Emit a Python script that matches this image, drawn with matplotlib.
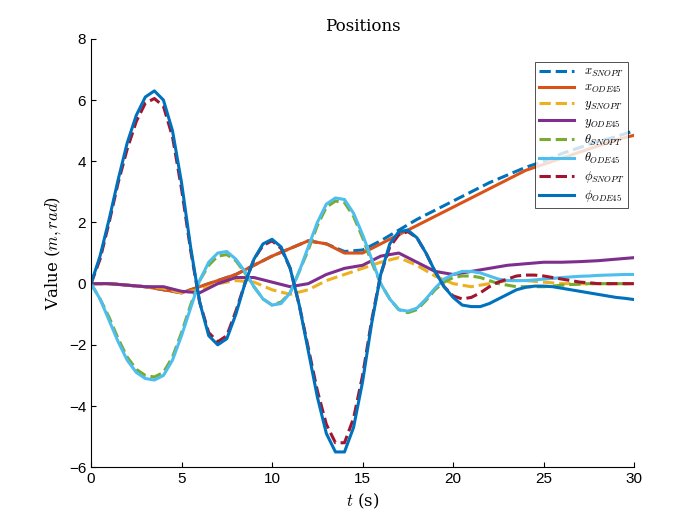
import numpy as np
import matplotlib.pyplot as plt

plt.rcParams["mathtext.fontset"] = "cm"
plt.rcParams["font.family"] = ["Liberation Sans", "DejaVu Sans"]

# fine series sampled every 0.5 s, slow series every 1 s
phi_ode = [0, 0.9, 2.1, 3.4, 4.6, 5.5, 6.1, 6.3, 6.0, 5.0,
           3.3, 1.2, -0.6, -1.7, -2.0, -1.8, -1.0, 0.0, 0.8, 1.3,
           1.45, 1.2, 0.5, -0.7, -2.2, -3.7, -4.9, -5.5, -5.5, -4.7,
           -3.2, -1.3, 0.3, 1.3, 1.7, 1.75, 1.5, 1.0, 0.4, -0.1,
           -0.45, -0.7, -0.75, -0.75, -0.65, -0.5, -0.35, -0.2, -0.12, -0.08,
           -0.08, -0.1, -0.15, -0.2, -0.25, -0.3, -0.35, -0.4, -0.45, -0.48, -0.52]
phi_snopt = [0, 0.8, 2.0, 3.3, 4.4, 5.3, 5.9, 6.05, 5.8, 4.8,
             3.1, 1.1, -0.6, -1.6, -1.9, -1.7, -0.9, 0.0, 0.8, 1.25,
             1.4, 1.15, 0.5, -0.7, -2.1, -3.5, -4.6, -5.2, -5.2, -4.4,
             -3.0, -1.2, 0.3, 1.2, 1.6, 1.7, 1.5, 1.0, 0.4, -0.1,
             -0.4, -0.5, -0.45, -0.3, -0.1, 0.05, 0.15, 0.25, 0.28, 0.28,
             0.25, 0.2, 0.15, 0.1, 0.05, 0.03, 0.0, 0.0, 0.0, 0.0, 0.0]
theta_ode = [0, -0.5, -1.2, -1.9, -2.5, -2.9, -3.1, -3.15, -3.0, -2.5,
             -1.7, -0.8, 0.1, 0.7, 1.0, 1.05, 0.8, 0.4, -0.1, -0.5,
             -0.7, -0.65, -0.3, 0.4, 1.2, 2.0, 2.6, 2.8, 2.75, 2.3,
             1.6, 0.8, 0.0, -0.5, -0.85, -0.9, -0.8, -0.5, -0.15, 0.15,
             0.3, 0.4, 0.4, 0.35, 0.25, 0.15, 0.1, 0.1, 0.1, 0.12,
             0.15, 0.17, 0.2, 0.22, 0.24, 0.25, 0.27, 0.28, 0.29, 0.3, 0.3]
theta_snopt = [0, -0.5, -1.1, -1.8, -2.4, -2.8, -3.0, -3.05, -2.9, -2.4,
               -1.6, -0.7, 0.1, 0.6, 0.9, 0.95, 0.75, 0.35, -0.1, -0.5,
               -0.7, -0.6, -0.3, 0.4, 1.1, 1.9, 2.5, 2.7, 2.65, 2.2,
               1.5, 0.7, 0.0, -0.5, -0.85, -0.95, -0.85, -0.55, -0.2, 0.05,
               0.2, 0.25, 0.25, 0.2, 0.1, 0.0, -0.05, -0.1, -0.1, -0.1,
               -0.1, -0.08, -0.05, -0.03, -0.02, 0.0, 0.0, 0.0, 0.0, 0.0, 0.0]
x_ode = [0, 0.0, -0.05, -0.1, -0.2, -0.3, -0.1, 0.1, 0.3, 0.6, 0.9, 1.15, 1.4, 1.3, 1.0, 1.0,
         1.3, 1.6, 1.9, 2.2, 2.5, 2.8, 3.1, 3.4, 3.7, 3.9, 4.1, 4.3, 4.5, 4.7, 4.85]
x_snopt = [0, 0.0, -0.05, -0.1, -0.2, -0.3, -0.1, 0.1, 0.3, 0.6, 0.9, 1.15, 1.4, 1.3, 1.05, 1.1,
           1.4, 1.75, 2.1, 2.4, 2.7, 3.0, 3.3, 3.55, 3.8, 4.0, 4.25, 4.45, 4.65, 4.8, 5.0]
y_ode = [0, 0, -0.05, -0.1, -0.1, -0.25, -0.3, 0.0, 0.2, 0.2, 0.05, -0.1, 0.0, 0.3, 0.5, 0.6,
         0.9, 1.0, 0.7, 0.4, 0.3, 0.4, 0.5, 0.6, 0.65, 0.7, 0.7, 0.72, 0.75, 0.8, 0.85]
y_snopt = [0, 0, -0.05, -0.1, -0.15, -0.3, -0.2, 0.0, 0.1, 0.05, -0.2, -0.35, -0.2, 0.1, 0.3, 0.5,
           0.7, 0.85, 0.6, 0.25, 0.0, -0.1, 0.0, 0.1, 0.1, 0.05, 0.0, 0.0, 0.0, 0.0, 0.0]

t_fine = np.linspace(0, 30, len(phi_ode))
t_slow = np.linspace(0, 30, len(x_ode))

series = [
    (t_slow, x_snopt, "--", "#0072BD", r"$x_{SNOPT}$"),
    (t_slow, x_ode, "-", "#D95319", r"$x_{ODE45}$"),
    (t_slow, y_snopt, "--", "#EDB120", r"$y_{SNOPT}$"),
    (t_slow, y_ode, "-", "#7E2F8E", r"$y_{ODE45}$"),
    (t_fine, theta_snopt, "--", "#77AC30", r"$\theta_{SNOPT}$"),
    (t_fine, theta_ode, "-", "#4DBEEE", r"$\theta_{ODE45}$"),
    (t_fine, phi_snopt, "--", "#A2142F", r"$\phi_{SNOPT}$"),
    (t_fine, phi_ode, "-", "#0072BD", r"$\phi_{ODE45}$"),
]

fig = plt.figure(figsize=(7, 5.25), dpi=100)
ax = fig.add_axes([0.13, 0.11, 0.776, 0.816])
for t, y, ls, c, lab in series:
    ax.plot(t, y, ls, color=c, lw=2.2, label=lab)

ax.set_xlim(0, 30)
ax.set_ylim(-6, 8)
ax.set_xticks(range(0, 31, 5))
ax.set_yticks(range(-6, 9, 2))
ax.tick_params(direction="in", labelsize=11)
ax.spines["top"].set_visible(False)
ax.spines["right"].set_visible(False)
ax.set_title("Positions", family="serif", fontsize=12)
ax.set_xlabel(r"$t$ (s)", fontsize=12, family="serif")
ax.set_ylabel(r"Value ($m,rad$)", fontsize=12, family="serif")
leg = ax.legend(loc="upper right", bbox_to_anchor=(1.0, 0.96), fancybox=False,
                edgecolor="black", fontsize=9, handlelength=2.8, borderpad=0.3,
                labelspacing=0.25)
leg.get_frame().set_linewidth(0.6)

fig.savefig("out.png", dpi=100)
